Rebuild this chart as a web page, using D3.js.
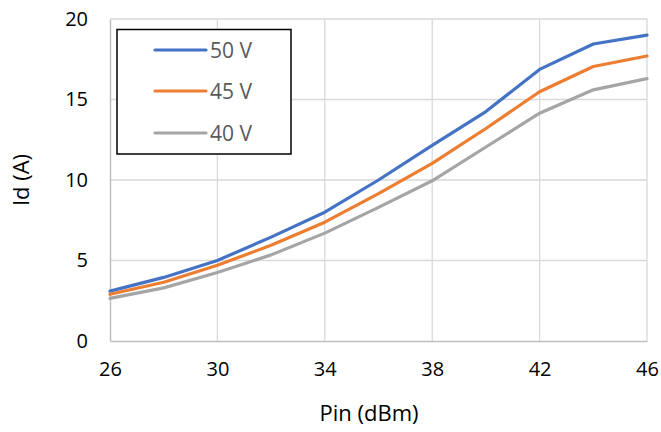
<!DOCTYPE html>
<html><head><meta charset="utf-8">
<script src="https://cdn.jsdelivr.net/npm/d3@7"></script>
<style>body{margin:0;background:#fff}svg{display:block}</style>
</head><body><svg id="c" width="661" height="432"></svg>
<script>
const pin = [26,28,30,32,34,36,38,40,42,44,46];
const v50 = [3.1,3.95,5.0,6.45,8.0,10.0,12.15,14.25,16.87,18.45,19.0];
const v45 = [2.9,3.65,4.7,5.95,7.38,9.15,11.03,13.2,15.48,17.05,17.7];
const v40 = [2.65,3.3,4.25,5.35,6.7,8.3,9.95,12.05,14.15,15.6,16.3];
const seriesNames = ["50 V","45 V","40 V"];
const seriesColors = ["#4472C4","#ED7D31","#A5A5A5"];
const xTicks = [26,30,34,38,42,46];
const yTicks = [0,5,10,15,20];

const svg = d3.select("#c");
const m = {l:110, r:647, t:19, b:341};
const x = d3.scaleLinear().domain([26,46]).range([m.l, m.r]);
const y = d3.scaleLinear().domain([0,20]).range([m.b, m.t]);
const font = "'Open Sans', sans-serif";

// gridlines
svg.append("g").selectAll("line").data(yTicks.filter(d=>d>0)).join("line")
  .attr("x1", m.l).attr("x2", m.r).attr("y1", d=>y(d)).attr("y2", d=>y(d))
  .attr("stroke", "#d9d9d9").attr("stroke-width", 1.3);
svg.append("g").selectAll("line").data(xTicks.filter(d=>d>26)).join("line")
  .attr("x1", d=>x(d)).attr("x2", d=>x(d)).attr("y1", m.t).attr("y2", m.b)
  .attr("stroke", "#d9d9d9").attr("stroke-width", 1.3);

// axes
const xAxis = d3.axisBottom(x).tickValues(xTicks).tickSize(0).tickPadding(21).tickFormat(d3.format("d"));
const gx = svg.append("g").attr("transform", `translate(0,${m.b})`).call(xAxis);
gx.select(".domain").attr("stroke", "#bfbfbf").attr("stroke-width", 1.5);
gx.selectAll("text").attr("font-family", font).attr("font-size", 20).attr("fill", "#000");

const yAxis = d3.axisLeft(y).tickValues(yTicks).tickSize(0).tickPadding(22);
const gy = svg.append("g").attr("transform", `translate(${m.l},0)`).call(yAxis);
gy.select(".domain").attr("stroke", "#bfbfbf").attr("stroke-width", 1.5);
gy.selectAll("text").attr("font-family", font).attr("font-size", 20).attr("fill", "#000");

// lines
const data = [v50, v45, v40];
const line = d3.line().x((d,i)=>x(pin[i])).y(d=>y(d));
svg.append("g").selectAll("path").data(data).join("path")
  .attr("d", line).attr("fill", "none")
  .attr("stroke", (d,i)=>seriesColors[i]).attr("stroke-width", 3.2)
  .attr("stroke-linejoin", "round").attr("stroke-linecap", "round");

// axis titles
svg.append("text").attr("x", 369).attr("y", 421).attr("text-anchor", "middle")
  .attr("font-family", font).attr("font-size", 22).attr("fill", "#000").text("Pin (dBm)");
svg.append("text").attr("transform", "translate(29,180) rotate(-90)").attr("text-anchor", "middle")
  .attr("font-family", font).attr("font-size", 22).attr("fill", "#000").text("Id (A)");

// legend
const lg = svg.append("g");
lg.append("rect").attr("x", 117).attr("y", 29.5).attr("width", 174).attr("height", 124.5)
  .attr("fill", "#fff").attr("stroke", "#000").attr("stroke-width", 1.5);
const ly = [50, 91, 133];
seriesNames.forEach((n,i)=>{
  lg.append("line").attr("x1", 155).attr("x2", 206).attr("y1", ly[i]).attr("y2", ly[i])
    .attr("stroke", seriesColors[i]).attr("stroke-width", 3.2).attr("stroke-linecap", "round");
  lg.append("text").attr("x", 210).attr("y", ly[i]).attr("dy", "0.36em")
    .attr("font-family", font).attr("font-size", 21).attr("fill", "#595959").text(n);
});
</script></body></html>
